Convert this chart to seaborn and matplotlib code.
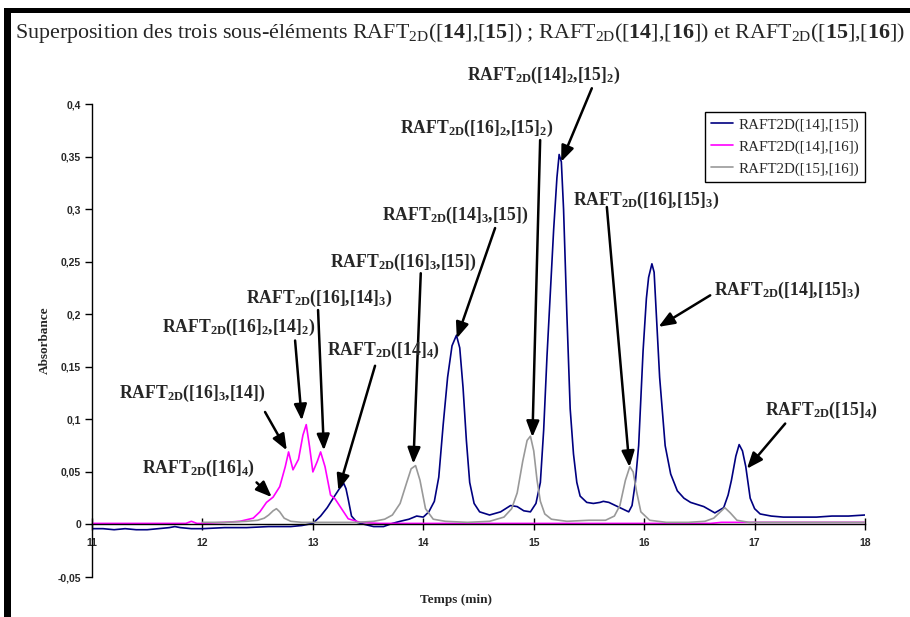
import numpy as np
import pandas as pd
import matplotlib
matplotlib.use('Agg')
import matplotlib.pyplot as plt
import seaborn as sns
from matplotlib.patches import Rectangle
from matplotlib.ticker import FuncFormatter, MultipleLocator

serie_names = ['RAFT2D([14],[15])', 'RAFT2D([14],[16])', 'RAFT2D([15],[16])']
serie_colors = ['#000080', '#FF00FF', '#999999']

t_14_15 = [11.0, 11.1, 11.2, 11.3, 11.4, 11.5, 11.6, 11.7, 11.75, 11.8, 11.9, 12.0, 12.2, 12.4,
           12.6, 12.8, 12.9, 13.0, 13.07, 13.13, 13.19, 13.24, 13.28, 13.3, 13.32, 13.35, 13.40,
           13.47, 13.55, 13.64, 13.72, 13.79, 13.87, 13.94, 14.0, 14.05, 14.1, 14.14, 14.18, 14.22,
           14.26, 14.3, 14.33, 14.36, 14.39, 14.42, 14.46, 14.51, 14.6, 14.7, 14.79, 14.85, 14.91,
           14.97, 15.02, 15.06, 15.09, 15.12, 15.15, 15.18, 15.21, 15.23, 15.25, 15.27, 15.30,
           15.33, 15.36, 15.39, 15.42, 15.48, 15.54, 15.6, 15.63, 15.68, 15.72, 15.8, 15.86, 15.89,
           15.92, 15.95, 15.99, 16.02, 16.04, 16.07, 16.09, 16.11, 16.14, 16.19, 16.24, 16.3,
           16.36, 16.42, 16.54, 16.64, 16.72, 16.76, 16.79, 16.83, 16.86, 16.89, 16.92, 16.96,
           17.0, 17.05, 17.15, 17.26, 17.4, 17.56, 17.7, 17.85, 18.0]
a_14_15 = [-0.004, -0.004, -0.005, -0.004, -0.005, -0.005, -0.004, -0.003, -0.002, -0.003, -0.004,
           -0.004, -0.003, -0.003, -0.002, -0.002, -0.001, 0.001, 0.008, 0.016, 0.026, 0.034,
           0.039, 0.034, 0.024, 0.008, 0.002, 0.0, -0.002, -0.002, 0.001, 0.003, 0.005, 0.008,
           0.007, 0.012, 0.022, 0.045, 0.095, 0.14, 0.17, 0.18, 0.168, 0.13, 0.08, 0.04, 0.02,
           0.012, 0.009, 0.012, 0.018, 0.017, 0.013, 0.012, 0.02, 0.04, 0.09, 0.16, 0.22, 0.28,
           0.33, 0.352, 0.345, 0.3, 0.2, 0.11, 0.067, 0.04, 0.027, 0.021, 0.020, 0.021, 0.022,
           0.021, 0.019, 0.015, 0.012, 0.018, 0.04, 0.075, 0.165, 0.215, 0.235, 0.248, 0.24, 0.2,
           0.14, 0.075, 0.048, 0.032, 0.025, 0.021, 0.017, 0.011, 0.016, 0.028, 0.042, 0.065,
           0.076, 0.07, 0.055, 0.025, 0.015, 0.01, 0.008, 0.007, 0.007, 0.007, 0.008, 0.008, 0.009]

t_14_16 = [11.0, 11.5, 11.85, 11.9, 11.95, 12.0, 12.2, 12.34, 12.46, 12.52, 12.58, 12.64, 12.7,
           12.75, 12.78, 12.82, 12.87, 12.91, 12.94, 12.97, 13.0, 13.04, 13.07, 13.11, 13.16,
           13.2, 13.25, 13.32, 13.43, 13.6, 14.0, 15.0, 16.0, 16.6, 16.7, 17.0, 18.0]
a_14_16 = [0.001, 0.001, 0.001, 0.003, 0.001, 0.001, 0.002, 0.003, 0.006, 0.012, 0.021, 0.026,
           0.036, 0.055, 0.069, 0.052, 0.062, 0.085, 0.095, 0.074, 0.05, 0.06, 0.069, 0.055,
           0.028, 0.0245, 0.0165, 0.0054, 0.002, 0.001, 0.001, 0.001, 0.001, 0.001, 0.002, 0.002,
           0.002]

t_15_16 = [12.0, 12.2, 12.4, 12.5, 12.56, 12.6, 12.64, 12.67, 12.7, 12.74, 12.8, 12.9, 13.0,
           13.2, 13.4, 13.55, 13.65, 13.72, 13.79, 13.85, 13.89, 13.93, 13.97, 14.02, 14.09, 14.2,
           14.4, 14.6, 14.73, 14.8, 14.85, 14.9, 14.94, 14.97, 15.0, 15.03, 15.06, 15.1, 15.16,
           15.3, 15.5, 15.65, 15.73, 15.78, 15.83, 15.87, 15.9, 15.93, 15.97, 16.05, 16.2, 16.4,
           16.55, 16.63, 16.68, 16.73, 16.78, 16.84, 16.95, 17.2, 17.6, 18.0]
a_15_16 = [0.002, 0.002, 0.003, 0.004, 0.006, 0.009, 0.013, 0.015, 0.012, 0.006, 0.003, 0.002,
           0.002, 0.002, 0.002, 0.003, 0.005, 0.009, 0.02, 0.04, 0.053, 0.056, 0.042, 0.015, 0.005,
           0.003, 0.002, 0.003, 0.007, 0.015, 0.03, 0.06, 0.08, 0.084, 0.07, 0.042, 0.022, 0.01,
           0.005, 0.003, 0.004, 0.004, 0.008, 0.018, 0.042, 0.055, 0.05, 0.032, 0.012, 0.004,
           0.002, 0.002, 0.003, 0.006, 0.011, 0.016, 0.011, 0.004, 0.002, 0.002, 0.002, 0.002]

# annotations : texte, position du texte, debut de fleche, pointe (temps, absorbance)
peak_labels = [
    r'RAFT$_{2D}$([14]$_{2}$,[15]$_{2}$)',
    r'RAFT$_{2D}$([16]$_{2}$,[15]$_{2}$)',
    r'RAFT$_{2D}$([14]$_{3}$,[15])',
    r'RAFT$_{2D}$([16]$_{3}$,[15])',
    r'RAFT$_{2D}$([16],[14]$_{3}$)',
    r'RAFT$_{2D}$([16]$_{2}$,[14]$_{2}$)',
    r'RAFT$_{2D}$([14]$_{4}$)',
    r'RAFT$_{2D}$([16]$_{3}$,[14])',
    r'RAFT$_{2D}$([16]$_{4}$)',
    r'RAFT$_{2D}$([16],[15]$_{3}$)',
    r'RAFT$_{2D}$([14],[15]$_{3}$)',
    r'RAFT$_{2D}$([15]$_{4}$)',
]
label_xy = [(15.094, 0.4276), (14.487, 0.377), (14.288, 0.294), (13.817, 0.2495),
            (13.056, 0.215), (12.33, 0.1876), (13.636, 0.166), (11.906, 0.125),
            (11.96, 0.0533), (16.018, 0.3086), (17.295, 0.223), (17.603, 0.1086)]
arrow_start = [(15.526, 0.415), (15.058, 0.3657), (14.650, 0.282), (13.977, 0.239),
               (13.047, 0.204), (12.839, 0.175), (13.563, 0.151), (12.567, 0.107),
               (12.49, 0.040), (15.662, 0.302), (16.598, 0.218), (17.277, 0.096)]
arrow_tip = [(15.248, 0.345), (14.988, 0.0831), (14.303, 0.177), (13.91, 0.0578),
             (13.10, 0.0705), (12.90, 0.099), (13.231, 0.0324), (12.764, 0.0705),
             (12.628, 0.026), (15.867, 0.0546), (16.13, 0.188), (16.93, 0.053)]

df = pd.concat([
    pd.DataFrame({'Temps': t_14_15, 'Absorbance': a_14_15, 'serie': serie_names[0]}),
    pd.DataFrame({'Temps': t_14_16, 'Absorbance': a_14_16, 'serie': serie_names[1]}),
    pd.DataFrame({'Temps': t_15_16, 'Absorbance': a_15_16, 'serie': serie_names[2]}),
], ignore_index=True)

sns.set_theme(style='white')
plt.rcParams['font.family'] = ['Liberation Serif', 'DejaVu Serif']
plt.rcParams['mathtext.fontset'] = 'custom'
plt.rcParams['mathtext.rm'] = 'Liberation Serif'
plt.rcParams['mathtext.bf'] = 'Liberation Serif:bold'
plt.rcParams['mathtext.it'] = 'Liberation Serif:italic'
plt.rcParams['mathtext.default'] = 'regular'

fig = plt.figure(figsize=(9.1, 6.17), dpi=100)
ax = fig.add_axes([0.1011, 0.0648, 0.8495, 0.7666])

sns.lineplot(data=df, x='Temps', y='Absorbance', hue='serie', hue_order=serie_names,
             palette=dict(zip(serie_names, serie_colors)), sort=False, estimator=None,
             linewidth=1.2, ax=ax)

ax.set_xlim(11, 18)
ax.set_ylim(-0.05, 0.4)
ax.xaxis.set_major_locator(MultipleLocator(1))
ax.yaxis.set_major_locator(MultipleLocator(0.05))
ax.yaxis.set_major_formatter(FuncFormatter(lambda v, p: ('%g' % round(v, 2)).replace('.', ',')))

for s in ['top', 'right']:
    ax.spines[s].set_visible(False)
ax.spines['bottom'].set_position(('data', 0))
for s in ['left', 'bottom']:
    ax.spines[s].set_color('black')
    ax.spines[s].set_linewidth(1.0)
ax.tick_params(axis='y', direction='out', length=5, width=1, color='black', left=True, pad=3)
ax.tick_params(axis='x', direction='inout', length=8, width=1, color='black', bottom=True, pad=6)
for lab in ax.get_xticklabels() + ax.get_yticklabels():
    lab.set_family(['Liberation Sans', 'DejaVu Sans'])
    lab.set_fontsize(7.5)
    lab.set_fontweight('bold')

ax.set_xlabel('Temps (min)', fontsize=9.5, fontweight='bold')
ax.set_ylabel('Absorbance', fontsize=9.5, fontweight='bold')
ax.xaxis.set_label_coords(0.471, -0.035)
ax.yaxis.set_label_coords(-0.053, 0.5)

leg = ax.legend(loc='upper right', bbox_to_anchor=(1.0, 0.983), borderaxespad=0,
                fancybox=False, frameon=True, framealpha=1, edgecolor='black',
                fontsize=10.8, handlelength=1.5, handletextpad=0.35, borderpad=0.4,
                labelspacing=0.55)
leg.get_frame().set_linewidth(1.0)

for txt, pos, st, tip in zip(peak_labels, label_xy, arrow_start, arrow_tip):
    ax.annotate('', xy=tip, xytext=st, annotation_clip=False,
                arrowprops=dict(arrowstyle='-|>,head_length=0.8,head_width=0.32',
                                color='black', lw=1.8, shrinkA=0, shrinkB=0))
    ax.text(pos[0], pos[1], txt, ha='center', va='center', fontsize=12.7,
            fontweight='bold', clip_on=False)

fig.text(0.0165, 0.946,
         r'Superposition des trois sous-éléments RAFT$_{2D}$([$\mathbf{14}$],[$\mathbf{15}$]) ; '
         r'RAFT$_{2D}$([$\mathbf{14}$],[$\mathbf{16}$]) et RAFT$_{2D}$([$\mathbf{15}$],[$\mathbf{16}$])',
         ha='left', va='center', fontsize=15.8)

# cadre noir (bords gauche et haut)
fig.add_artist(Rectangle((0.0044, 0.0), 0.0077, 0.987, transform=fig.transFigure,
                         facecolor='black', edgecolor='none'))
fig.add_artist(Rectangle((0.0044, 0.979), 0.9956, 0.008, transform=fig.transFigure,
                         facecolor='black', edgecolor='none'))

fig.savefig('out.png', dpi=100)
